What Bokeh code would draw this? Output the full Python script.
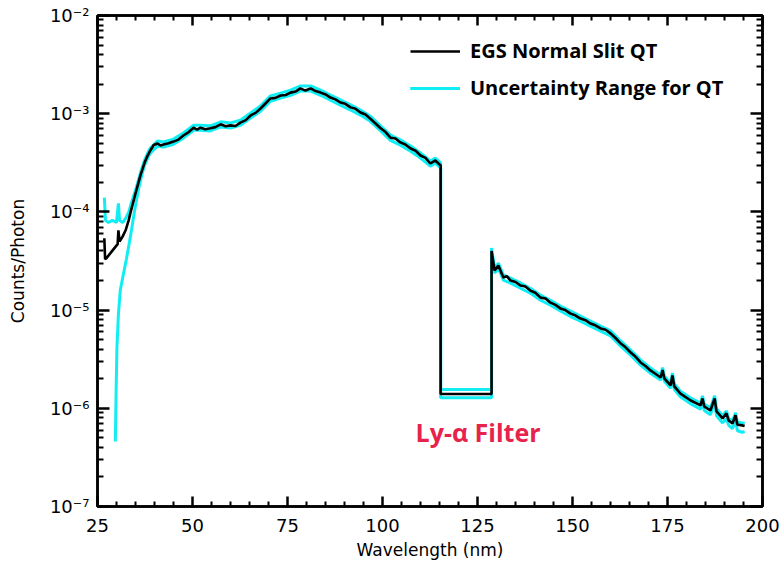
from bokeh.plotting import figure
from bokeh.models import (Legend, LegendItem, FixedTicker, LinearAxis, LogAxis,
                          CustomJSTickFormatter, Range1d, Label)
from bokeh.embed import file_html
from bokeh.resources import INLINE

# ---------------- data ----------------
wl_qt = [26.8, 27.0, 27.4, 28.4, 29.5, 30.3, 30.5, 30.8, 31.6, 32.4, 33.2, 33.7, 35.0, 36.3,
         37.4, 38.2, 38.9, 39.8, 40.8, 41.6, 42.4, 43.7, 45.0, 46.3, 47.6, 49.0, 50.3, 51.2,
         52.1, 53.4, 54.7, 56.0, 57.4, 58.7, 60.0, 61.3, 62.6, 64.0, 65.3, 66.6, 67.9, 69.2,
         70.5, 71.8, 73.2, 74.5, 75.8, 77.1, 78.4, 79.7, 81.1, 82.4, 83.7, 85.0, 86.3, 87.6,
         88.9, 90.2, 91.6, 92.9, 94.2, 95.5, 96.8, 98.1, 99.5, 100.8, 102.1, 103.4, 104.7,
         106.0, 107.4, 108.7, 110.0, 111.3, 112.6, 113.9, 115.3, 115.3, 128.7, 128.7, 129.5,
         130.5, 131.8, 132.7, 133.7, 135.0, 136.3, 137.6, 138.9, 140.2, 141.6, 142.9, 144.2,
         145.5, 146.8, 148.1, 149.5, 150.8, 152.1, 153.4, 154.7, 156.0, 157.4, 158.7, 160.0,
         161.3, 162.6, 163.9, 165.3, 166.6, 167.9, 169.2, 170.5, 171.8, 173.2, 173.7, 174.2,
         175.8, 176.3, 176.8, 178.4, 181.1, 183.7, 184.2, 184.7, 186.3, 187.4, 187.9, 189.5,
         190.5, 191.1, 192.1, 192.9, 193.4, 194.7, 195.3]
counts_qt = [5.4e-5, 3.3e-5, 3.4e-5, 3.8e-5, 4.3e-5, 4.7e-5, 6.5e-5, 5.0e-5, 5.6e-5, 6.5e-5,
             8.2e-5, 9.9e-5, 1.54e-4, 2.35e-4, 3.18e-4, 3.75e-4, 4.22e-4, 4.8e-4, 4.97e-4,
             4.75e-4, 4.86e-4, 5.0e-4, 5.2e-4, 5.45e-4, 6.0e-4, 6.5e-4, 7.2e-4, 6.9e-4, 7.2e-4,
             6.95e-4, 7.1e-4, 7.3e-4, 7.8e-4, 7.45e-4, 7.6e-4, 7.5e-4, 8.1e-4, 8.6e-4, 9.6e-4,
             1.02e-3, 1.13e-3, 1.27e-3, 1.43e-3, 1.45e-3, 1.53e-3, 1.55e-3, 1.64e-3, 1.68e-3,
             1.81e-3, 1.72e-3, 1.81e-3, 1.70e-3, 1.64e-3, 1.57e-3, 1.46e-3, 1.40e-3, 1.30e-3,
             1.26e-3, 1.16e-3, 1.12e-3, 1.03e-3, 9.8e-4, 8.9e-4, 8.0e-4, 7.1e-4, 6.5e-4, 5.7e-4,
             5.6e-4, 5.1e-4, 4.85e-4, 4.42e-4, 4.2e-4, 3.75e-4, 3.55e-4, 3.11e-4, 3.34e-4,
             2.97e-4, 1.40e-6, 1.40e-6, 4.0e-5, 2.53e-5, 2.84e-5, 2.15e-5, 2.22e-5, 2.0e-5,
             1.93e-5, 1.78e-5, 1.74e-5, 1.58e-5, 1.50e-5, 1.34e-5, 1.31e-5, 1.19e-5, 1.13e-5,
             1.04e-5, 1.00e-5, 9.2e-6, 8.8e-6, 8.2e-6, 7.9e-6, 7.3e-6, 7.0e-6, 6.5e-6, 6.3e-6,
             5.8e-6, 5.2e-6, 4.6e-6, 4.2e-6, 3.7e-6, 3.35e-6, 2.93e-6, 2.7e-6, 2.43e-6, 2.25e-6,
             2.06e-6, 2.45e-6, 2.0e-6, 1.71e-6, 2.16e-6, 1.67e-6, 1.41e-6, 1.20e-6, 1.07e-6,
             1.26e-6, 1.04e-6, 9.5e-7, 1.26e-6, 9.3e-7, 7.9e-7, 8.9e-7, 7.5e-7, 7.0e-7, 8.5e-7,
             6.8e-7, 6.7e-7, 6.6e-7]

wl_unc_hi = [26.8, 27.1, 27.9, 28.9, 30.0, 30.5, 30.8, 31.6, 32.4, 33.2, 33.7, 35.0, 36.3,
             37.4, 38.2, 38.9, 40.8, 42.4, 45.0, 47.6, 50.3, 52.1, 54.7, 57.4, 60.0, 62.6, 65.3,
             67.9, 70.5, 73.2, 75.8, 78.4, 81.1, 83.7, 86.3, 88.9, 91.6, 94.2, 96.8, 99.5, 102.1,
             104.7, 107.4, 110.0, 112.6, 113.9, 115.3, 115.3, 128.7, 128.7, 129.5, 130.5, 131.8,
             133.7, 136.3, 138.9, 141.6, 144.2, 146.8, 149.5, 152.1, 154.7, 157.4, 160.0, 162.6,
             165.3, 167.9, 170.5, 173.2, 173.7, 174.2, 175.8, 176.3, 176.8, 178.4, 181.1, 183.7,
             184.2, 184.7, 186.3, 187.4, 187.9, 189.5, 190.5, 191.1, 192.1, 192.9, 193.4, 194.7, 195.3]
unc_hi = [1.40e-4, 8.2e-5, 7.8e-5, 8.2e-5, 7.8e-5, 1.22e-4, 8.2e-5, 7.8e-5, 8.6e-5, 9.9e-5,
          1.16e-4, 1.66e-4, 2.5e-4, 3.37e-4, 3.98e-4, 4.47e-4, 5.27e-4, 5.15e-4, 5.51e-4,
          6.36e-4, 7.63e-4, 7.63e-4, 7.53e-4, 8.27e-4, 8.06e-4, 8.59e-4, 1.02e-3, 1.20e-3,
          1.52e-3, 1.62e-3, 1.74e-3, 1.92e-3, 1.92e-3, 1.74e-3, 1.55e-3, 1.38e-3, 1.23e-3,
          1.09e-3, 9.43e-4, 7.53e-4, 6.04e-4, 5.41e-4, 4.69e-4, 3.98e-4, 3.30e-4, 3.54e-4,
          3.15e-4, 1.55e-6, 1.55e-6, 4.3e-5, 2.68e-5, 3.01e-5, 2.28e-5, 2.12e-5, 1.89e-5,
          1.67e-5, 1.42e-5, 1.26e-5, 1.10e-5, 9.75e-6, 8.69e-6, 7.74e-6, 6.89e-6, 6.15e-6,
          4.88e-6, 3.92e-6, 3.11e-6, 2.58e-6, 2.18e-6, 2.6e-6, 2.12e-6, 1.81e-6, 2.29e-6,
          1.77e-6, 1.49e-6, 1.27e-6, 1.13e-6, 1.34e-6, 1.10e-6, 1.01e-6, 1.34e-6, 9.9e-7,
          8.4e-7, 9.4e-7, 7.95e-7, 7.4e-7, 9.0e-7, 7.2e-7, 7.1e-7, 7.0e-7]

wl_unc_lo = [29.7, 29.9, 30.1, 30.5, 31.0, 31.8, 32.6, 33.7, 34.7, 35.8, 36.8,
             37.4, 38.2, 38.9, 40.8, 42.4, 45.0, 47.6, 50.3, 52.1, 54.7, 57.4, 60.0, 62.6, 65.3,
             67.9, 70.5, 73.2, 75.8, 78.4, 81.1, 83.7, 86.3, 88.9, 91.6, 94.2, 96.8, 99.5, 102.1,
             104.7, 107.4, 110.0, 112.6, 113.9, 115.3, 115.3, 128.7, 128.7, 129.5, 130.5, 131.8,
             133.7, 136.3, 138.9, 141.6, 144.2, 146.8, 149.5, 152.1, 154.7, 157.4, 160.0, 162.6,
             165.3, 167.9, 170.5, 173.2, 173.7, 174.2, 175.8, 176.3, 176.8, 178.4, 181.1, 183.7,
             184.2, 184.7, 186.3, 187.4, 187.9, 189.5, 190.5, 191.1, 192.1, 192.9, 193.4, 194.7, 195.3]
unc_lo = [4.6e-7, 1.5e-6, 4.0e-6, 9.0e-6, 1.6e-5, 2.3e-5, 3.3e-5, 5.7e-5, 1.0e-4, 1.7e-4, 2.5e-4,
          2.99e-4, 3.53e-4, 3.97e-4, 4.67e-4, 4.57e-4, 4.89e-4, 5.64e-4, 6.77e-4, 6.77e-4,
          6.67e-4, 7.33e-4, 7.14e-4, 7.61e-4, 9.02e-4, 1.06e-3, 1.34e-3, 1.44e-3, 1.54e-3,
          1.70e-3, 1.70e-3, 1.54e-3, 1.37e-3, 1.22e-3, 1.09e-3, 9.68e-4, 8.37e-4, 6.67e-4,
          5.36e-4, 4.79e-4, 4.15e-4, 3.53e-4, 2.92e-4, 3.14e-4, 2.79e-4, 1.28e-6, 1.28e-6,
          3.7e-5, 2.38e-5, 2.67e-5, 2.02e-5, 1.88e-5, 1.67e-5, 1.49e-5, 1.26e-5, 1.12e-5,
          9.8e-6, 8.6e-6, 7.7e-6, 6.86e-6, 6.1e-6, 5.45e-6, 4.32e-6, 3.48e-6, 2.75e-6, 2.28e-6,
          1.94e-6, 2.3e-6, 1.88e-6, 1.6e-6, 2.0e-6, 1.55e-6, 1.31e-6, 1.11e-6, 9.8e-7, 1.15e-6,
          9.5e-7, 8.6e-7, 1.15e-6, 8.4e-7, 7.1e-7, 7.9e-7, 6.7e-7, 6.2e-7, 7.5e-7, 5.9e-7,
          5.7e-7, 5.8e-7]

x_major_ticks = [25, 50, 75, 100, 125, 150, 175, 200]
x_minor_ticks = [30, 35, 40, 45, 55, 60, 65, 70, 80, 85, 90, 95, 105, 110, 115, 120,
                 130, 135, 140, 145, 155, 160, 165, 170, 180, 185, 190, 195]
y_major_ticks = [1e-7, 1e-6, 1e-5, 1e-4, 1e-3, 1e-2]
y_minor_ticks = [m * d for d in [1e-7, 1e-6, 1e-5, 1e-4, 1e-3] for m in range(2, 10)]

legend_labels = ["EGS Normal Slit QT", "Uncertainty Range for QT"]
annotation_text = "Ly-\u03b1 Filter"

# ---------------- figure ----------------
BLACK = "#000000"
CYAN = "#10eef4"
FONT = "DejaVu Sans"

p = figure(width=784, height=565, y_axis_type="log", output_backend="svg",
           toolbar_location=None, x_range=Range1d(25, 200), y_range=Range1d(1e-7, 1e-2),
           min_border_left=97, min_border_right=22, min_border_top=15, min_border_bottom=59)
p.background_fill_color = "white"
p.border_fill_color = "white"
p.outline_line_color = BLACK
p.outline_line_width = 2.5
p.xgrid.visible = False
p.ygrid.visible = False

r_hi = p.line(wl_unc_hi, unc_hi, line_color=CYAN, line_width=3)
r_lo = p.line(wl_unc_lo, unc_lo, line_color=CYAN, line_width=3)
r_qt = p.line(wl_qt, counts_qt, line_color=BLACK, line_width=2.6)

sup_code = """
const e = Math.round(Math.log10(tick));
const sup = {"-": "\u207b", "0": "\u2070", "1": "\u00b9", "2": "\u00b2", "3": "\u00b3",
             "4": "\u2074", "5": "\u2075", "6": "\u2076", "7": "\u2077", "8": "\u2078", "9": "\u2079"};
return "10" + String(e).split("").map(c => sup[c]).join("");
"""

xt = FixedTicker(ticks=x_major_ticks, minor_ticks=x_minor_ticks)
yt = FixedTicker(ticks=y_major_ticks, minor_ticks=y_minor_ticks)


def style_axis(ax, major_in, minor_in):
    ax.axis_line_color = BLACK
    ax.axis_line_width = 2.5
    ax.major_tick_line_color = BLACK
    ax.minor_tick_line_color = BLACK
    ax.major_tick_line_width = 2.5
    ax.minor_tick_line_width = 2
    ax.major_tick_in = major_in
    ax.major_tick_out = 0
    ax.minor_tick_in = minor_in
    ax.minor_tick_out = 0


xa = p.xaxis[0]
xa.ticker = xt
style_axis(xa, 10, 5)
xa.major_label_text_font = FONT
xa.major_label_text_font_size = "18px"
xa.major_label_text_color = BLACK
xa.major_label_standoff = 12
xa.axis_label = "Wavelength (nm)"
xa.axis_label_text_font = FONT
xa.axis_label_text_font_size = "17px"
xa.axis_label_text_font_style = "normal"
xa.axis_label_text_color = BLACK
xa.axis_label_standoff = 5

ya = p.yaxis[0]
ya.ticker = yt
ya.formatter = CustomJSTickFormatter(code=sup_code)
style_axis(ya, 12, 6)
ya.major_label_text_font = FONT
ya.major_label_text_font_size = "18px"
ya.major_label_text_color = BLACK
ya.major_label_standoff = 8
ya.axis_label = "Counts/Photon"
ya.axis_label_text_font = FONT
ya.axis_label_text_font_size = "17px"
ya.axis_label_text_font_style = "normal"
ya.axis_label_text_color = BLACK
ya.axis_label_standoff = 19

blank = "return '';"
top = LinearAxis(ticker=xt, formatter=CustomJSTickFormatter(code=blank), major_label_standoff=0)
style_axis(top, 10, 5)
p.add_layout(top, "above")
right = LogAxis(ticker=yt, formatter=CustomJSTickFormatter(code=blank), major_label_standoff=0)
style_axis(right, 12, 6)
p.add_layout(right, "right")

legend = Legend(items=[LegendItem(label=legend_labels[0], renderers=[r_qt]),
                       LegendItem(label=legend_labels[1], renderers=[r_hi, r_lo])],
                location=(313, 405), orientation="vertical",
                glyph_width=50, glyph_height=20, label_height=20, spacing=10,
                padding=0, margin=0, label_standoff=10,
                label_text_font="Open Sans", label_text_font_size="20px",
                label_text_font_style="bold",
                label_text_color=BLACK,
                border_line_alpha=0, background_fill_alpha=0)
p.add_layout(legend)

lab = Label(x=108.7, y=5.7e-7, text=annotation_text, text_color="#e8234b",
            text_font="Open Sans", text_font_size="25px", text_font_style="bold",
            text_baseline="middle", text_align="left")
p.add_layout(lab)

open("out.html", "w").write(file_html(p, INLINE))
